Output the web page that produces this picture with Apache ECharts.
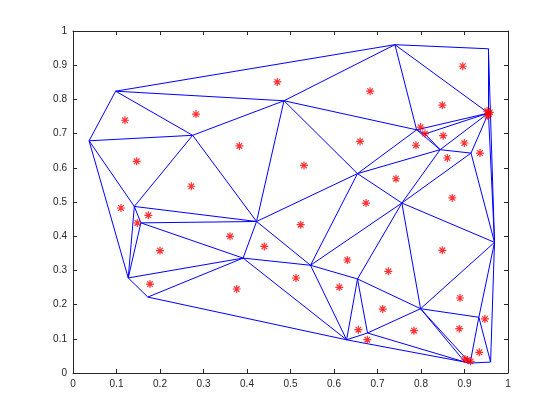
<!DOCTYPE html>
<html><head><meta charset="utf-8">
<script src="https://cdn.jsdelivr.net/npm/echarts@6/dist/echarts.min.js"></script>
<style>html,body{margin:0;background:#fff}#c{width:560px;height:420px}</style>
</head><body><div id="c"></div>
<script>
// triangulation vertices
const vx = [0.037,0.098,0.275,0.485,0.740,0.955,0.955,0.790,0.809,0.654,0.844,0.915,0.422,0.391,0.141,0.156,0.127,0.172,0.546,0.654,0.629,0.677,0.756,0.799,0.933,0.969,0.960,0.901,0.913];
const vy = [0.679,0.824,0.695,0.796,0.960,0.948,0.760,0.711,0.699,0.583,0.653,0.643,0.443,0.336,0.487,0.439,0.278,0.222,0.315,0.275,0.097,0.117,0.497,0.188,0.163,0.382,0.032,0.032,0.029];
// triangles (vertex index triples)
const triangles = [
  [0,1,2],[1,2,3],[1,3,4],[0,2,14],[2,14,12],[2,3,12],[3,12,9],[3,9,7],[3,4,7],
  [4,7,6],[4,5,6],[5,6,25],[7,8,6],[7,8,10],[8,10,6],[10,11,6],[6,11,25],[9,7,10],
  [9,10,22],[10,11,22],[11,22,25],[22,23,25],[23,24,25],[24,25,26],[23,27,28],
  [23,28,24],[24,28,26],[21,23,27],[20,21,27],[19,20,21],[19,21,23],[19,22,23],
  [18,22,19],[18,9,22],[12,9,18],[12,13,18],[13,18,20],[18,19,20],[17,13,20],
  [16,17,13],[15,16,13],[15,12,13],[14,15,12],[14,15,16],[0,14,16]
];
// red query points
const px = [0.1195,0.1464,0.4697,0.2828,0.3824,0.2720,0.683,0.660,0.531,0.7425,0.6736,
  0.896,0.849,0.952,0.956,0.953,0.958,0.799,0.809,0.851,0.7885,0.8996,0.8605,0.9356,0.872,
  0.1103,0.1732,0.1479,0.200,0.177,0.361,0.4398,0.3763,
  0.5234,0.5126,0.6306,0.7249,0.6122,0.712,0.656,0.6766,
  0.849,0.8897,0.947,0.7839,0.888,0.934,0.901,0.914,0.907];
const py = [0.739,0.619,0.851,0.757,0.664,0.546,0.824,0.677,0.607,0.568,0.497,
  0.897,0.783,0.766,0.758,0.752,0.762,0.719,0.700,0.694,0.666,0.6725,0.6287,0.643,0.512,
  0.4825,0.461,0.4386,0.3577,0.260,0.3997,0.370,0.2456,
  0.4337,0.2778,0.3304,0.2973,0.2506,0.187,0.1267,0.0974,
  0.3587,0.2193,0.158,0.1238,0.1297,0.0604,0.041,0.034,0.038];
const ticks = [0,0.1,0.2,0.3,0.4,0.5,0.6,0.7,0.8,0.9,1];

const edgeSet = new Set(), edges = [];
triangles.forEach(t => {
  for (let k = 0; k < 3; k++) {
    const a = t[k], b = t[(k+1)%3];
    const key = Math.min(a,b) + '-' + Math.max(a,b);
    if (!edgeSet.has(key)) { edgeSet.add(key); edges.push({coords: [[vx[a],vy[a]],[vx[b],vy[b]]]}); }
  }
});
const pts = px.map((x,i) => [x, py[i]]);

const axCol = '#262626';
const fmt = v => String(+v.toFixed(1));
function ax(pos, show) {
  return {
    type: 'value', min: 0, max: 1, interval: 0.1, position: pos,
    axisLine: {show: true, onZero: false, lineStyle: {color: axCol, width: 1}},
    axisTick: {show: true, inside: true, length: 4, lineStyle: {color: axCol}},
    axisLabel: {show: show, color: axCol, fontSize: 10, fontFamily: 'Liberation Sans, Arial, sans-serif', formatter: fmt, margin: 6},
    splitLine: {show: false}
  };
}
const chart = echarts.init(document.getElementById('c'), null, {renderer: 'canvas'});
chart.setOption({
  animation: false,
  backgroundColor: '#fff',
  grid: {left: 73, right: 52, top: 31, bottom: 47, containLabel: false},
  xAxis: [ax('bottom', true), ax('top', false)],
  yAxis: [ax('left', true), ax('right', false)],
  series: [
    {type: 'lines', coordinateSystem: 'cartesian2d', xAxisIndex: 0, yAxisIndex: 0, silent: true,
     lineStyle: {color: '#0000ff', width: 1, opacity: 1}, data: edges, z: 2},
    {type: 'scatter', xAxisIndex: 0, yAxisIndex: 0, silent: true,
     symbol: 'path://M5,0L5,10M0,5L10,5M1.5,1.5L8.5,8.5M8.5,1.5L1.5,8.5',
     symbolSize: 8, symbolKeepAspect: true,
     itemStyle: {color: 'none', borderColor: '#ff0000', borderWidth: 1.2},
     data: pts, z: 3}
  ]
});
</script>
</body></html>
